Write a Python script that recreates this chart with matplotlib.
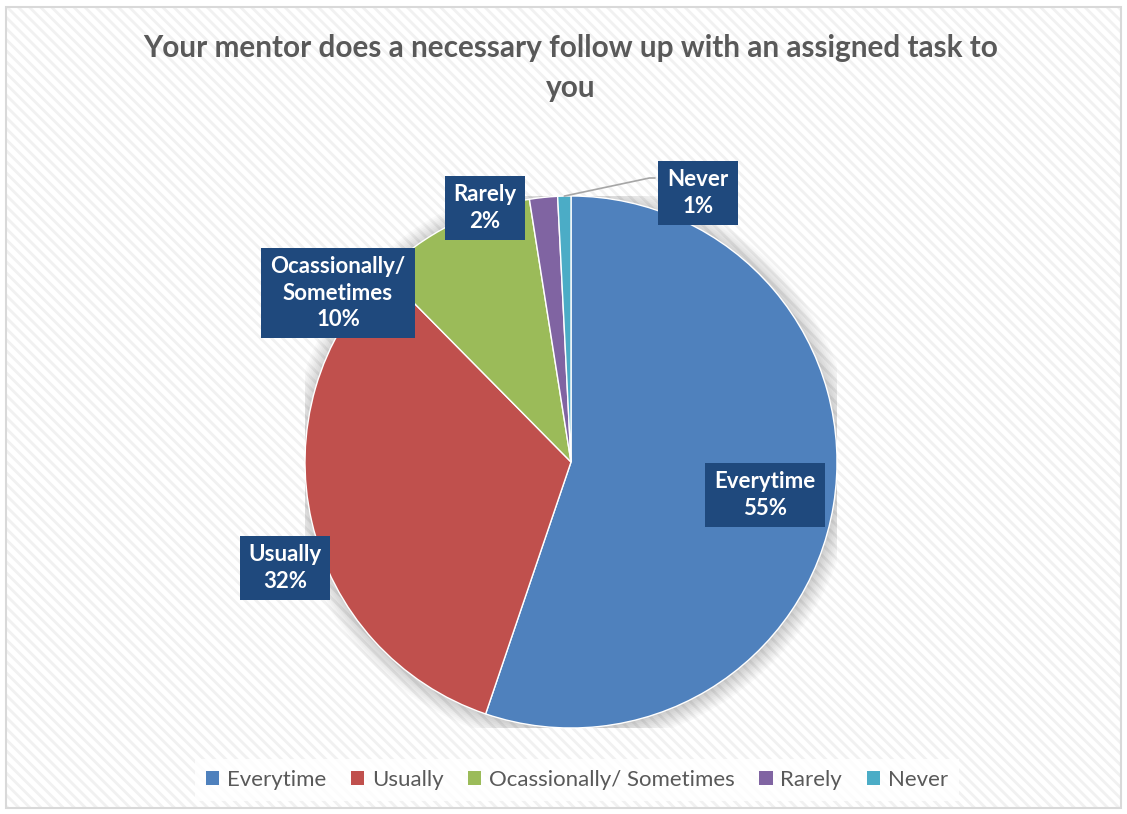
import matplotlib.pyplot as plt
import matplotlib.patches as mpatches
import numpy as np

plt.rcParams['font.family'] = ['Lato', 'DejaVu Sans']
plt.rcParams['hatch.linewidth'] = 2.0

categories = ['Everytime', 'Usually', 'Ocassionally/ Sometimes', 'Rarely', 'Never']
values = [55.2, 32.4, 9.9, 1.7, 0.8]
pct_labels = ['55%', '32%', '10%', '2%', '1%']
box_names = ['Everytime', 'Usually', 'Ocassionally/\nSometimes', 'Rarely', 'Never']
colors = ['#4F81BD', '#C0504D', '#9BBB59', '#8064A2', '#4BACC6']
title_lines = ['Your mentor does a necessary follow up with an assigned task to', 'you']

W, H = 1127, 814
fig = plt.figure(figsize=(W / 100, H / 100), dpi=100)
fig.patch.set_facecolor('white')

# striped chart area with light border
bg = mpatches.Rectangle((6 / W, 6 / H), 1 - 12 / W, 1 - 13 / H, transform=fig.transFigure,
                        facecolor='white', edgecolor='#f1f1f1', hatch='\\\\\\', lw=0, zorder=-2)
fig.patches.append(bg)
border = mpatches.Rectangle((6 / W, 6 / H), 1 - 12 / W, 1 - 13 / H, transform=fig.transFigure,
                            facecolor='none', edgecolor='#d9d9d9', lw=1.5, zorder=-1)
fig.patches.append(border)

cx, cy, r = 571, 462, 266
ax = fig.add_axes([(cx - r) / W, (H - cy - r) / H, 2 * r / W, 2 * r / H])
ax.set_aspect('equal')
ax.axis('off')

# soft shadow
for i in range(10):
    ax.add_patch(mpatches.Circle((0.004, -0.006), 1.0 + 0.007 * i, facecolor='#000000',
                                 alpha=0.018, lw=0, zorder=0))

wedges, _ = ax.pie(values, colors=colors, startangle=90, counterclock=False, radius=1.0,
                   wedgeprops=dict(edgecolor='white', linewidth=1.0))
for w in wedges:
    w.set_zorder(2)
ax.set_xlim(-1, 1)
ax.set_ylim(-1, 1)

# data label boxes (centres in pixels)
box_pos = [(765, 495), (285, 568), (338, 293), (485, 208), (698, 193)]
for name, pct, (bx, by) in zip(box_names, pct_labels, box_pos):
    fig.text(bx / W, 1 - by / H, name + '\n' + pct, ha='center', va='center', color='white',
             fontsize=16, fontweight='bold', linespacing=1.3, zorder=5,
             bbox=dict(boxstyle='square,pad=0.4', facecolor='#1F497D', edgecolor='none'))

# leader line for the smallest slice
w = wedges[-1]
mid = np.deg2rad((w.theta1 + w.theta2) / 2)
ax.annotate('', xy=(np.cos(mid), np.sin(mid)), xycoords='data',
            xytext=(655 / W, 1 - 178 / H), textcoords='figure fraction',
            arrowprops=dict(arrowstyle='-', color='#a6a6a6', lw=1.2, shrinkA=0, shrinkB=0,
                            connectionstyle='angle,angleA=0,angleB=12,rad=0'), zorder=4)

for line, y in zip(title_lines, [48, 88]):
    fig.text(571 / W, 1 - y / H, line, ha='center', va='center', color='#595959',
             fontsize=21.4, fontweight='bold')

handles = [mpatches.Patch(facecolor=c, edgecolor='none') for c in colors]
leg = fig.legend(handles, categories, loc='center', bbox_to_anchor=(577 / W, 1 - 780 / H), ncol=5,
                 frameon=True, fontsize=16, handlelength=0.6, handleheight=0.6,
                 handletextpad=0.35, columnspacing=1.1, labelcolor='#595959', borderpad=0.5,
                 fancybox=False)
leg.get_frame().set_edgecolor('none')
leg.get_frame().set_facecolor('white')

fig.savefig('out.png', dpi=100)
